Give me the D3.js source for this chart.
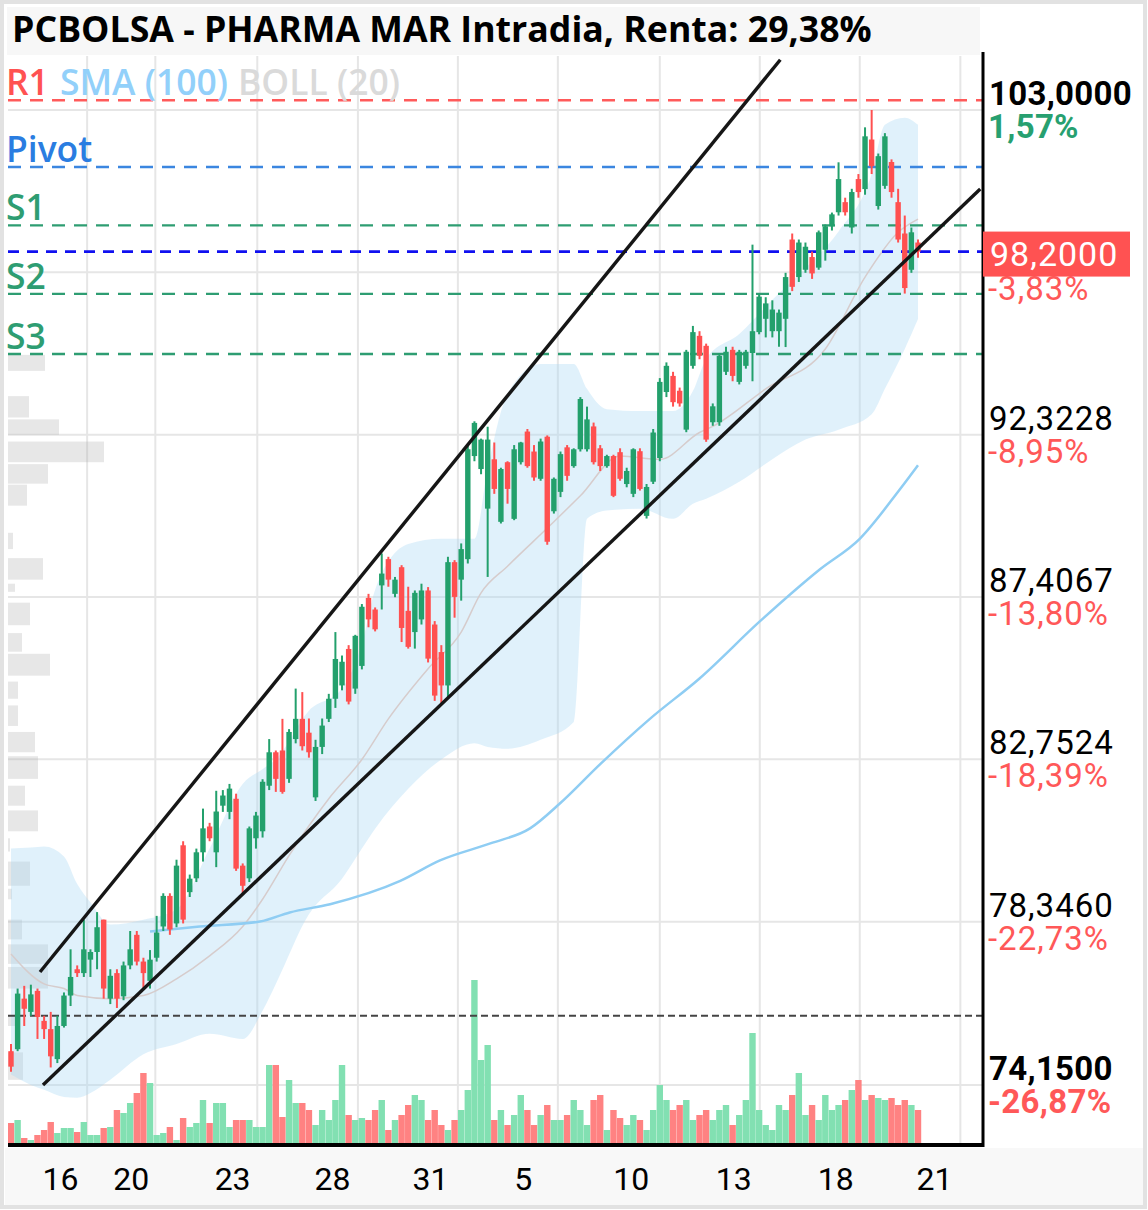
<!DOCTYPE html>
<html><head><meta charset="utf-8">
<script src="https://cdn.jsdelivr.net/npm/d3@7"></script>
<style>html,body{margin:0;padding:0;background:#fff;}svg{display:block;}</style>
</head><body><svg id="c" width="1148" height="1210"></svg>
<script>
// ---------------- DATA ----------------
const titleText = "PCBOLSA - PHARMA MAR Intradia, Renta: 29,38%";
const open  = [75.00,75.05,76.34,76.00,76.54,75.77,75.56,74.80,75.64,76.42,77.10,77.00,77.35,77.55,78.40,76.34,77.00,76.40,77.20,78.00,77.30,76.80,77.40,78.22,79.03,78.30,80.39,79.13,79.50,80.20,80.90,80.20,81.47,81.30,81.66,79.84,79.50,80.58,80.77,82.02,82.95,83.00,82.21,83.32,83.89,83.50,81.70,83.10,83.89,84.46,84.84,85.89,84.75,85.40,87.38,87.04,87.75,88.53,87.50,88.29,87.00,86.38,86.75,87.60,86.60,85.80,84.84,88.44,87.92,88.53,91.66,91.26,90.05,91.56,89.65,91.47,89.74,91.47,92.42,91.80,90.96,92.26,89.97,90.56,91.93,91.35,91.87,91.87,92.58,91.90,91.35,91.66,91.78,90.80,90.50,91.81,89.83,90.87,91.60,93.66,94.17,93.70,92.48,94.49,95.45,95.13,92.71,92.71,94.30,95.00,93.98,94.49,94.90,95.57,96.00,95.60,95.60,96.00,98.60,97.36,97.60,98.02,97.67,98.26,99.04,99.51,99.85,99.00,100.63,100.29,101.98,99.72,100.40,101.21,99.85,98.80,97.60,98.50];
const high  = [75.18,76.60,76.67,76.70,76.60,75.90,76.00,75.90,76.50,77.62,77.20,78.40,77.62,78.60,78.40,77.10,77.10,77.30,78.10,78.10,77.40,77.60,78.50,79.10,79.10,80.00,80.50,79.60,80.30,81.39,81.00,81.88,81.90,82.07,81.80,79.90,80.90,81.30,82.20,83.32,83.00,83.89,83.60,84.75,84.65,83.90,83.30,83.90,84.60,86.38,85.70,86.00,86.30,87.20,87.50,87.10,88.70,88.60,88.00,88.35,87.71,87.60,87.80,87.70,86.70,86.00,88.60,88.50,89.00,92.00,92.74,92.20,92.57,92.08,91.30,91.50,92.00,92.10,92.50,92.00,92.20,92.30,91.00,91.80,92.00,91.90,93.50,93.20,92.70,92.00,91.70,91.70,91.90,91.30,91.90,91.90,90.80,92.50,94.10,94.60,94.30,93.80,95.00,95.77,95.60,95.20,93.30,94.90,95.10,95.10,95.00,95.00,98.43,96.80,96.70,96.60,96.30,97.50,98.80,98.60,98.50,98.20,98.90,99.10,99.50,101.20,100.00,100.30,100.80,102.40,103.00,101.50,102.20,101.30,100.30,99.40,99.00,98.60];
const low   = [74.48,75.00,75.64,75.90,75.31,75.31,74.59,74.70,75.60,76.15,76.90,76.90,76.90,77.10,76.34,76.20,76.10,76.30,77.10,77.20,76.60,76.60,77.30,78.10,78.00,78.20,78.30,79.00,79.40,79.95,80.50,79.80,81.30,81.10,79.70,79.10,79.40,80.30,80.60,81.90,81.85,81.80,82.10,83.20,83.00,82.80,81.60,82.90,83.80,84.20,84.70,84.30,84.60,85.30,86.52,86.40,87.04,87.71,87.40,86.09,85.90,85.90,86.60,85.50,84.40,84.30,84.50,86.80,87.30,88.40,91.50,91.10,88.00,90.50,89.60,90.20,89.70,91.40,91.30,90.90,90.90,88.96,89.90,90.40,90.90,91.30,91.80,91.80,91.40,91.20,91.30,90.40,90.90,90.70,90.40,90.60,89.75,90.80,91.50,93.50,93.20,93.20,92.40,94.40,94.70,92.10,92.60,92.60,94.20,94.00,93.90,94.40,94.00,95.50,95.40,95.40,95.10,95.09,96.90,97.20,97.50,97.30,97.60,97.90,98.90,99.40,99.40,98.80,100.00,100.10,100.80,99.60,100.30,100.00,98.50,96.82,97.50,98.00];
const close = [74.61,76.47,76.08,76.45,75.87,75.56,74.87,75.64,76.42,76.90,77.00,77.62,77.55,78.20,76.60,76.93,76.34,77.20,77.62,77.30,77.00,77.35,78.06,79.03,78.14,79.84,78.40,79.49,80.20,80.85,80.58,81.31,81.75,81.94,79.76,79.30,80.85,81.20,82.13,82.95,82.21,81.85,83.52,83.89,83.12,82.95,83.10,83.70,84.46,85.60,85.52,84.38,86.27,87.12,86.75,86.46,88.10,87.92,87.92,86.50,85.95,87.53,87.60,85.61,84.55,84.84,88.44,87.41,88.83,91.87,92.69,92.17,92.17,90.65,91.26,90.65,91.87,92.08,91.35,91.00,92.11,89.05,90.96,91.72,91.05,91.87,93.44,92.80,91.47,91.35,91.66,90.44,90.96,91.20,91.87,90.65,90.71,92.39,93.98,94.49,93.34,93.30,94.94,95.57,94.81,92.17,93.21,94.81,94.94,94.17,94.94,94.94,95.60,96.72,96.50,96.30,96.20,97.36,97.04,98.50,98.36,97.48,98.84,99.04,99.44,100.63,99.51,100.19,100.19,102.09,101.07,101.41,102.09,100.19,98.60,97.00,98.84,98.20];
const volume = [20,23,5,3,8,13,21,10,15,15,11,21,8,8,15,16,33,30,40,50,70,60,8,10,16,3,25,16,20,43,20,40,40,16,23,23,23,16,16,78,78,26,63,40,40,
  33,18,33,23,43,78,28,23,25,23,33,43,13,23,28,38,48,43,23,33,18,13,23,33,53,163,83,98,23,33,18,28,48,33,18,28,38,23,23,28,43,33,18,43,48,13,33,25,18,28,23,13,33,58,43,33,38,43,23,28,33,23,33,38,18,28,43,110,33,18,13,38,33,48,70,28,38,23,48,33,38,43,53,63,43,48,45,43,45,38,43,38,33].map(v=>v*1000);

// Bollinger (20)
const bandIdx   = [0,3,5,8,10,12,15,20,25,30,35,38,40,45,50,53,55,60,65,70,72,75,80,85,87,90,95,100,103,105,110,115,120,125,130,132,135,137];
const bandUpper = [80.30,80.33,80.36,80.09,79.35,78.86,78.27,78.40,78.67,80.30,82.07,82.48,82.75,84.12,84.75,86.04,87.62,88.98,89.14,89.14,91.26,93.60,94.55,94.55,93.76,93.12,93.06,93.06,93.69,94.71,95.51,96.62,97.65,98.87,100.80,102.49,102.73,102.49];
const bandLower = [74.41,74.15,74.03,73.85,73.83,73.95,74.28,74.92,75.18,75.44,75.31,76.03,76.72,78.54,79.49,80.30,80.84,81.94,82.75,83.20,83.10,83.05,83.30,83.80,89.74,89.99,90.05,89.74,90.20,90.35,90.87,91.56,92.17,92.48,92.96,93.76,95.03,95.99];
const midIdx    = [0,5,8,10,15,20,25,30,35,38,42,48,53,57,63,68,71,75,82,86,92,98,104,106,114,123,129,134,137];
const midValue  = [77.50,76.72,76.60,76.42,76.34,76.42,76.85,77.45,78.22,78.94,80.11,81.66,82.75,83.89,85.32,86.38,87.53,88.32,89.65,90.44,91.66,91.56,92.39,92.58,93.76,95.03,97.36,98.84,99.28];
// SMA (100)
const smaIdx    = [21,28.5,37.6,42.1,48.2,58.8,64.8,72.4,78.4,82.9,89,96.5,104,113.1,122.2,128.2,134.3,137];
const smaValue  = [78.09,78.22,78.35,78.59,78.81,79.43,79.98,80.44,80.85,81.53,82.62,83.89,85.04,86.69,88.23,89.14,90.65,91.38];

// Volume profile (left)
const profTop = [94.84,93.53,92.80,92.11,91.41,90.78,89.32,88.56,87.80,87.24,86.35,85.75,84.95,84.27,83.52,82.84,82.02,81.34,80.58,79.95,79.22,78.40,77.75,77.16,75.90,74.97];
const profBot = [94.33,92.86,92.32,91.47,90.81,90.14,88.83,87.92,87.56,86.58,85.81,85.12,84.46,83.69,82.95,82.21,81.47,80.77,80.22,79.30,78.94,77.88,77.24,76.60,75.64,74.28];
const profVol = [37,21,51,96,40,19,5,35,7,22,14,42,10,10,27,30,17,30,2,22,4,14,40,40,8,15];

// Pivot levels
const levelNames  = ["R1","Pivot","S1","S2","S3"];
const levelValues = [103.34,101.04,99.07,96.81,94.87];
const lastPrice = 98.20;
const refLevel = 75.90;

// Trend channel (index, price)
const upperChannel = [[4.38,77.03],[116.2,104.76]];
const lowerChannel = [[4.83,74.15],[146.4,100.29]];

// Axes
const gridPrices = [103.0,97.515,92.3228,87.4067,82.7524,78.346,74.15];
const priceLabels = ["103,0000","","92,3228","87,4067","82,7524","78,3460","74,1500"];
const pctLabels = ["1,57%","-3,83%","-8,95%","-13,80%","-18,39%","-22,73%","-26,87%"];
const dayLabels = ["16","20","23","28","31","5","10","13","18","21"];
const dayIdx = [7.4,18.1,33.4,48.5,63.3,77.3,93.6,109.1,124.5,139.4];
const gridIdx = [11.5,21.8,37.2,52.4,67.5,82.6,98.0,113.1,128.2,143.4];

// ---------------- DRAW ----------------
const svg = d3.select("#c");
const L=8, R=983, T=56, B=1145;
const x = d3.scaleLinear().domain([0,137]).range([11,918]);
const y = d3.scaleLog().domain([74.15,103]).range([1085,110]);
const vy = d3.scaleLinear().domain([0,170000]).range([1143,973]);
const pw = d3.scaleLinear().domain([0,100]).range([0,100]);

const GREEN="#23a06c", RED="#ff5050", VG="#82e0b2", VR="#ff8282";

svg.append("rect").attr("x",0).attr("y",0).attr("width",1148).attr("height",1210).attr("fill","#fff");
svg.append("rect").attr("x",7).attr("y",7).attr("width",973).attr("height",48).attr("fill","#f7f7f7");
svg.append("rect").attr("x",5).attr("y",1148).attr("width",1138).attr("height",57).attr("fill","#f8f8f8");
svg.append("rect").attr("x",2).attr("y",2).attr("width",1143).attr("height",1205).attr("fill","none").attr("stroke","#e2e2e2").attr("stroke-width",4);

svg.append("defs").append("clipPath").attr("id","plot").append("rect").attr("x",L).attr("y",T).attr("width",R-L).attr("height",B-T);
const g = svg.append("g").attr("clip-path","url(#plot)");

// grid
g.selectAll(".vg").data(gridIdx).join("line").attr("x1",d=>x(d)).attr("x2",d=>x(d)).attr("y1",T).attr("y2",B)
  .attr("stroke","#e6e6e6").attr("stroke-width",2);
g.selectAll(".hg").data(gridPrices).join("line").attr("x1",L).attr("x2",R).attr("y1",d=>y(d)).attr("y2",d=>y(d))
  .attr("stroke","#e6e6e6").attr("stroke-width",2);

// volume profile
g.selectAll(".prof").data(profVol).join("rect").attr("x",L)
  .attr("y",(d,i)=>y(profTop[i])).attr("height",(d,i)=>y(profBot[i])-y(profTop[i]))
  .attr("width",d=>pw(d)).attr("fill","rgba(175,175,175,0.3)");

// bollinger band
const area = d3.area().x((d,i)=>x(bandIdx[i])).y0((d,i)=>y(bandLower[i])).y1((d,i)=>y(bandUpper[i])).curve(d3.curveMonotoneX);
g.append("path").datum(bandIdx).attr("d",area).attr("fill","rgba(170,215,245,0.36)");
const mid = d3.line().x((d,i)=>x(midIdx[i])).y((d,i)=>y(midValue[i])).curve(d3.curveMonotoneX);
g.append("path").datum(midIdx).attr("d",mid).attr("fill","none").attr("stroke","#d6cccc").attr("stroke-width",1.5);
const sma = d3.line().x((d,i)=>x(smaIdx[i])).y((d,i)=>y(smaValue[i])).curve(d3.curveMonotoneX);
g.append("path").datum(smaIdx).attr("d",sma).attr("fill","none").attr("stroke","#8fcdf3").attr("stroke-width",2.5);

// volume
g.selectAll(".vol").data(volume).join("rect").attr("x",(d,i)=>x(i)-3.2).attr("width",6.4)
  .attr("y",d=>vy(d)).attr("height",d=>vy(0)-vy(d))
  .attr("fill",(d,i)=>close[i]>=open[i]?VG:VR);

// level lines
const levelColors = ["#ff5a5a","#3b86e0","#2e9d72","#2e9d72","#2e9d72"];
g.selectAll(".lvl").data(levelValues).join("line").attr("x1",L).attr("x2",R).attr("y1",d=>y(d)).attr("y2",d=>y(d))
  .attr("stroke",(d,i)=>levelColors[i]).attr("stroke-width",2.4).attr("stroke-dasharray","13,9");
g.append("line").attr("x1",L).attr("x2",R).attr("y1",y(lastPrice)).attr("y2",y(lastPrice))
  .attr("stroke","#1010f0").attr("stroke-width",2.8).attr("stroke-dasharray","11,8");
g.append("line").attr("x1",L).attr("x2",R).attr("y1",y(refLevel)).attr("y2",y(refLevel))
  .attr("stroke","#444").attr("stroke-width",2).attr("stroke-dasharray","7,4");

// candles
const cg = g.append("g");
close.forEach((c,i)=>{
  const o=open[i], col = c>=o?GREEN:RED;
  cg.append("line").attr("x1",x(i)).attr("x2",x(i)).attr("y1",y(high[i])).attr("y2",y(low[i])).attr("stroke",col).attr("stroke-width",2);
  const y0=Math.min(y(o),y(c)), h=Math.max(2,Math.abs(y(o)-y(c)));
  cg.append("rect").attr("x",x(i)-2.7).attr("width",5.4).attr("y",y0).attr("height",h).attr("fill",col);
});

// channel
const cl = d3.line().x(d=>x(d[0])).y(d=>y(d[1]));
[upperChannel,lowerChannel].forEach(ch=>{
  g.append("path").datum(ch).attr("d",cl).attr("stroke","#161616").attr("stroke-width",3.4).attr("fill","none");
});

// axes frame
svg.append("line").attr("x1",R).attr("x2",R).attr("y1",52).attr("y2",B+2).attr("stroke","#000").attr("stroke-width",3);
svg.append("line").attr("x1",L).attr("x2",R+1).attr("y1",B).attr("y2",B).attr("stroke","#000").attr("stroke-width",4);

// bottom axis
const xa = d3.axisBottom(x).tickValues(dayIdx).tickFormat((d,i)=>dayLabels[i]).tickSize(0).tickPadding(10);
const xg = svg.append("g").attr("transform","translate(0,1157)").call(xa);
xg.select(".domain").remove();
xg.selectAll("text").attr("font-family","Roboto, sans-serif").attr("font-size",32).attr("fill","#000");

// right labels
const FONT="Roboto, sans-serif";
gridPrices.forEach((p,i)=>{
  const yy=y(p), bold = (i===0||i===gridPrices.length-1);
  if(priceLabels[i]) svg.append("text").attr("x",989).attr("y",yy-5).text(priceLabels[i])
    .attr("font-family",FONT).attr("font-size",33).attr("letter-spacing",bold?0.3:1).attr("font-weight",bold?700:400).attr("fill","#000");
  svg.append("text").attr("x",988).attr("y",yy+28).text(pctLabels[i])
    .attr("font-family",FONT).attr("font-size",33).attr("letter-spacing",bold?0.3:1).attr("font-weight",bold?700:400)
    .attr("fill",pctLabels[i][0]==="-"?"#ff5858":"#27a070");
});
// last price box
svg.append("rect").attr("x",983).attr("y",y(lastPrice)-20).attr("width",147).attr("height",45).attr("fill","#ff5252");
svg.append("text").attr("x",990).attr("y",y(lastPrice)+14).text(d3.format(".4f")(lastPrice).replace(".",","))
  .attr("font-family",FONT).attr("font-size",34).attr("letter-spacing",1).attr("fill","#fff");

// title
const LF="'Open Sans', 'Noto Sans', sans-serif";
function fit(sel,w){const n=sel.node();const fs=+sel.attr("font-size");const cw=n.getComputedTextLength();if(cw>0)sel.attr("font-size",fs*w/cw);return +sel.attr("font-size");}
const tt = svg.append("text").attr("x",12).attr("y",42).text(titleText).attr("font-family",LF).attr("font-size",32).attr("font-weight",700).attr("fill","#000");
fit(tt,860);

// legend / level labels
const s1=svg.append("text").attr("x",60).attr("y",95).text("SMA (100)").attr("font-family",LF).attr("font-size",34).attr("font-weight",600).attr("fill","#92d0fa");
const lfs = fit(s1,168);
const s2=svg.append("text").attr("x",238).attr("y",95).text("BOLL (20)").attr("font-family",LF).attr("font-size",lfs).attr("font-weight",600).attr("fill","#dadada");
const labY = [95,162,220,289,349];
const labC = ["#ff5252","#2a7de1","#2e9d72","#2e9d72","#2e9d72"];
levelNames.forEach((n,i)=>{
  svg.append("text").attr("x",6).attr("y",labY[i]).text(n).attr("font-family",LF).attr("font-size",lfs).attr("font-weight",600).attr("fill",labC[i]);
});
</script></body></html>
